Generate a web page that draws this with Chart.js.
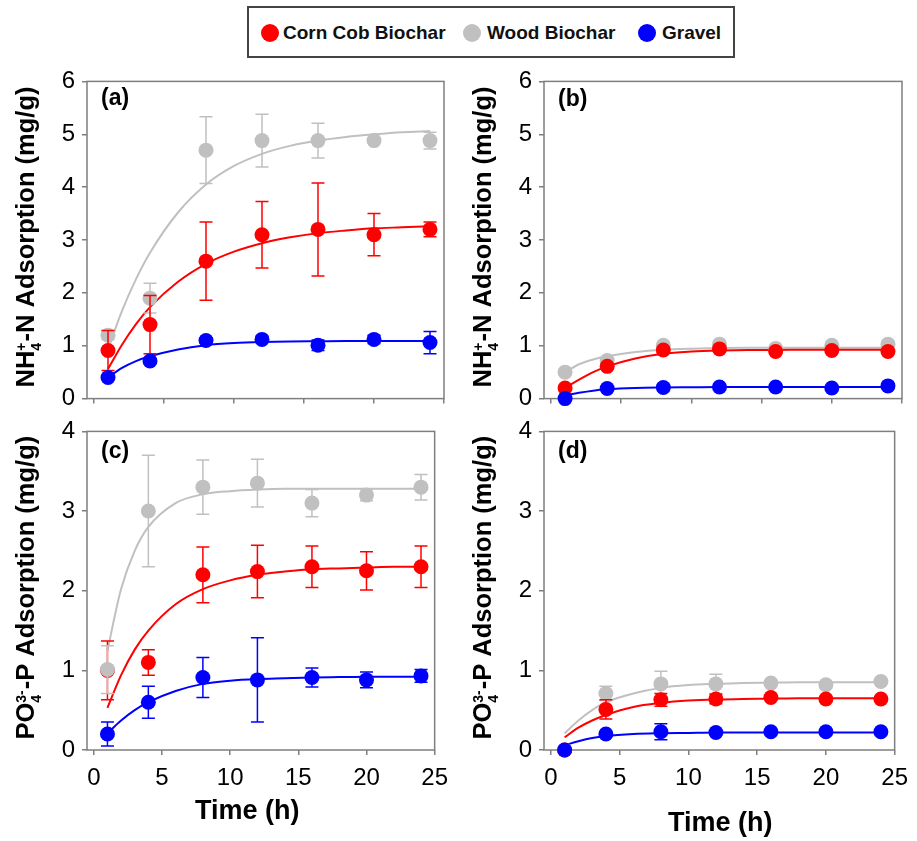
<!DOCTYPE html>
<html>
<head>
<meta charset="utf-8">
<title>NH4+-N and PO43--P adsorption kinetics</title>
<script src="https://cdn.jsdelivr.net/npm/chart.js@4.4.1/dist/chart.umd.min.js"></script>
<style>
  html, body { margin: 0; padding: 0; background: #fff; }
  body { position: relative; width: 917px; height: 841px; overflow: hidden; font-family: "Liberation Sans", Arial, sans-serif; }
  canvas { position: absolute; }
  #legend { position: absolute; left: 247px; top: 6px; width: 488px; height: 52px; box-sizing: border-box; border: 2px solid #444; background: #fff; }
  #legend span { position: absolute; top: 1px; height: 48px; line-height: 48px; font-weight: bold; font-size: 19px; color: #111; white-space: nowrap; }
  #legend i { position: absolute; top: 16px; width: 18px; height: 18px; border-radius: 50%; }
</style>
</head>
<body>
<div id="legend"></div>
<canvas id="pa" width="457" height="360" style="left:0;top:60px"></canvas>
<canvas id="pb" width="460" height="360" style="left:457px;top:60px"></canvas>
<canvas id="pc" width="457" height="431" style="left:0;top:410px"></canvas>
<canvas id="pd" width="460" height="431" style="left:457px;top:410px"></canvas>
<script>
/* DATA */
const timeH = [1, 4, 8, 12, 16, 20, 24];
const fitT = [1, 2, 3, 4, 6, 8, 10, 12, 14, 16, 18, 20, 22, 24];
const xTicks = [0, 5, 10, 15, 20, 25];
const yTicksN = [0, 1, 2, 3, 4, 5, 6];
const yTicksP = [0, 1, 2, 3, 4];
const seriesNames = ["Corn Cob Biochar", "Wood Biochar", "Gravel"];

// (a) NH4+-N
const aCorn = [0.91, 1.4, 2.6, 3.1, 3.2, 3.1, 3.2];
const aCornErr = [0.38, 0.55, 0.74, 0.63, 0.88, 0.4, 0.14];
const aCornFit = [0.56, 1.02, 1.41, 1.73, 2.21, 2.55, 2.78, 2.94, 3.05, 3.13, 3.18, 3.22, 3.24, 3.26];
const aWood = [1.2, 1.9, 4.7, 4.88, 4.88, 4.88, 4.88];
const aWoodErr = [0.08, 0.28, 0.63, 0.5, 0.33, 0.05, 0.16];
const aWoodFit = [0.93, 1.66, 2.26, 2.76, 3.52, 4.05, 4.4, 4.63, 4.78, 4.88, 4.95, 5.0, 5.04, 5.06];
const aGravel = [0.4, 0.71, 1.1, 1.12, 1.01, 1.12, 1.06];
const aGravelErr = [0.03, 0.04, 0.05, 0.06, 0.1, 0.08, 0.21];
const aGravelFit = [0.4, 0.58, 0.71, 0.8, 0.93, 1.01, 1.05, 1.07, 1.08, 1.085, 1.09, 1.09, 1.09, 1.09];

// (b) NH4+-N
const bCorn = [0.2, 0.61, 0.92, 0.94, 0.89, 0.91, 0.89];
const bCornErr = [0.03, 0.05, 0.05, 0.04, 0.03, 0.03, 0.03];
const bCornFit = [0.2, 0.36, 0.5, 0.61, 0.76, 0.85, 0.89, 0.91, 0.92, 0.92, 0.925, 0.925, 0.925, 0.925];
const bWood = [0.5, 0.72, 1.01, 1.03, 0.95, 1.01, 1.03];
const bWoodErr = [0.02, 0.05, 0.04, 0.04, 0.03, 0.03, 0.03];
const bWoodFit = [0.5, 0.65, 0.74, 0.8, 0.88, 0.925, 0.945, 0.955, 0.96, 0.96, 0.96, 0.96, 0.96, 0.96];
const bGravel = [0.0, 0.19, 0.21, 0.22, 0.22, 0.2, 0.24];
const bGravelErr = [0.01, 0.03, 0.06, 0.03, 0.02, 0.02, 0.02];
const bGravelFit = [0.06, 0.11, 0.15, 0.175, 0.2, 0.21, 0.215, 0.22, 0.22, 0.22, 0.22, 0.22, 0.22, 0.22];

// (c) PO43--P
const cCorn = [1.0, 1.1, 2.2, 2.24, 2.3, 2.25, 2.3];
const cCornErr = [0.37, 0.16, 0.35, 0.33, 0.26, 0.24, 0.26];
const cCornFit = [0.53, 0.94, 1.26, 1.5, 1.83, 2.02, 2.13, 2.2, 2.24, 2.27, 2.28, 2.29, 2.3, 2.3];
const cWood = [1.01, 3.0, 3.3, 3.35, 3.1, 3.2, 3.3];
const cWoodErr = [0.3, 0.7, 0.34, 0.3, 0.17, 0.07, 0.16];
const cWoodFit = [1.25, 2.02, 2.5, 2.8, 3.1, 3.21, 3.25, 3.27, 3.28, 3.28, 3.28, 3.28, 3.28, 3.28];
const cGravel = [0.2, 0.6, 0.91, 0.88, 0.91, 0.88, 0.93];
const cGravelErr = [0.15, 0.2, 0.25, 0.53, 0.12, 0.1, 0.08];
const cGravelFit = [0.21, 0.37, 0.5, 0.6, 0.74, 0.83, 0.87, 0.89, 0.9, 0.91, 0.915, 0.92, 0.92, 0.92];

// (d) PO43--P
const dCorn = [0.0, 0.51, 0.63, 0.64, 0.66, 0.64, 0.64];
const dCornErr = [0, 0.12, 0.08, 0.06, 0.02, 0.02, 0.02];
const dCornFit = [0.16, 0.28, 0.37, 0.44, 0.54, 0.59, 0.62, 0.635, 0.64, 0.645, 0.65, 0.65, 0.65, 0.65];
const dWood = [0.0, 0.71, 0.83, 0.83, 0.84, 0.82, 0.86];
const dWoodErr = [0, 0.09, 0.16, 0.12, 0.02, 0.02, 0.02];
const dWoodFit = [0.21, 0.37, 0.5, 0.6, 0.71, 0.78, 0.815, 0.83, 0.84, 0.845, 0.85, 0.85, 0.85, 0.85];
const dGravel = [0.0, 0.2, 0.23, 0.22, 0.23, 0.23, 0.23];
const dGravelErr = [0, 0.02, 0.1, 0.02, 0.02, 0.02, 0.02];
const dGravelFit = [0.06, 0.11, 0.15, 0.175, 0.2, 0.21, 0.215, 0.22, 0.22, 0.22, 0.22, 0.22, 0.22, 0.22];

/* STYLE */
const FAM = '"Liberation Sans", Arial, sans-serif';
const colors = ['#ff0000', '#c0c0c0', '#0000ff'];
const axisGray = '#7f7f7f';
Chart.defaults.font.family = FAM;
Chart.defaults.color = '#000';

/* legend */
const legendPos = [[21, 34], [223, 238], [398, 413]];
const legend = document.getElementById('legend');
seriesNames.forEach((name, i) => {
    const dot = document.createElement('i');
    dot.style.left = (legendPos[i][0] - 9) + 'px';
    dot.style.background = colors[i];
    const txt = document.createElement('span');
    txt.style.left = legendPos[i][1] + 'px';
    txt.textContent = name;
    legend.appendChild(dot);
    legend.appendChild(txt);
});

/* error bars drawn under each marker series */
const errorBars = {
    id: 'errorBars',
    beforeDatasetDraw(chart, args) {
        const ds = chart.data.datasets[args.index];
        if (!ds.errors) return;
        const ctx = chart.ctx, ys = chart.scales.y;
        ctx.save();
        ctx.strokeStyle = ds.backgroundColor;
        ctx.lineWidth = 1.5;
        args.meta.data.forEach((pt, i) => {
            const e = ds.errors[i];
            if (!e) return;
            const v = ds.data[i].y;
            const t = ys.getPixelForValue(v + e), b = ys.getPixelForValue(v - e);
            ctx.beginPath();
            ctx.moveTo(pt.x, t); ctx.lineTo(pt.x, b);
            ctx.moveTo(pt.x - 6.5, t); ctx.lineTo(pt.x + 6.5, t);
            ctx.moveTo(pt.x - 6.5, b); ctx.lineTo(pt.x + 6.5, b);
            ctx.stroke();
        });
        ctx.restore();
    }
};

function drawYTitle(ctx, parts, bx, cy) {
    const big = 'bold 25.5px ' + FAM, small = 'bold 14px ' + FAM;
    const stackW = p => { ctx.font = small; return Math.max(ctx.measureText(p.sub).width, ctx.measureText(p.sup).width) + 1; };
    let w = 0;
    parts.forEach(p => {
        if (typeof p === 'string') { ctx.font = big; w += ctx.measureText(p).width; }
        else w += stackW(p);
    });
    ctx.save();
    ctx.translate(bx, cy);
    ctx.rotate(-Math.PI / 2);
    ctx.fillStyle = '#000';
    ctx.textAlign = 'left';
    ctx.textBaseline = 'alphabetic';
    let x = -w / 2;
    parts.forEach(p => {
        if (typeof p === 'string') {
            ctx.font = big; ctx.fillText(p, x, 0); x += ctx.measureText(p).width;
        } else {
            const sw = stackW(p);
            ctx.font = small;
            ctx.fillText(p.sub, x, 7.5);
            ctx.fillText(p.sup, x, -8);
            x += sw;
        }
    });
    ctx.restore();
}

/* frame, panel tag and axis titles */
const frame = {
    id: 'frame',
    beforeDatasetsDraw(chart) {
        const { left, top, right, bottom } = chart.chartArea;
        const ctx = chart.ctx;
        ctx.save();
        ctx.strokeStyle = axisGray;
        ctx.lineWidth = 1.5;
        ctx.strokeRect(left, top, right - left, bottom - top);
        ctx.restore();
    },
    afterDraw(chart, args, o) {
        const { left, top, right, bottom } = chart.chartArea;
        const ctx = chart.ctx;
        ctx.save();
        ctx.fillStyle = '#000';
        ctx.font = 'bold 23px ' + FAM;
        ctx.textBaseline = 'alphabetic';
        ctx.textAlign = 'left';
        ctx.fillText(o.tag, left + 14, top + o.tagDy);
        drawYTitle(ctx, o.yTitle, left - 53.5, (top + bottom) / 2 - 3);
        if (o.xTitle) {
            ctx.font = 'bold 27px ' + FAM;
            ctx.textAlign = 'center';
            ctx.fillText(o.xTitle, (left + right) / 2 + o.xTitleDx, bottom + o.xTitleDy);
        }
        ctx.restore();
    }
};

function panel(id, o) {
    const fits = [o.fit[0], o.fit[1], o.fit[2]];
    const datasets = [];
    o.mean.forEach((m, k) => {
        datasets.push({
            type: 'line',
            data: fitT.map((t, i) => ({ x: t, y: fits[k][i] })),
            borderColor: colors[k],
            borderWidth: 2,
            pointRadius: 0,
            fill: false,
            cubicInterpolationMode: 'monotone',
            order: 20 + k
        });
        datasets.push({
            type: 'scatter',
            data: timeH.map((t, i) => ({ x: t, y: m[i] })),
            errors: o.err[k],
            backgroundColor: colors[k],
            pointRadius: 7.5,
            pointBorderWidth: 0,
            clip: false,
            order: o.markerOrder[k]
        });
    });
    new Chart(document.getElementById(id), {
        type: 'scatter',
        data: { datasets },
        options: {
            responsive: false,
            animation: false,
            events: [],
            layout: { padding: { top: 20, right: o.padRight, left: 0, bottom: 0 } },
            plugins: {
                legend: { display: false },
                tooltip: { enabled: false },
                frame: { tag: o.tag, tagDy: o.tagDy, yTitle: o.yTitle, xTitle: o.xTitle, xTitleDx: o.xTitleDx, xTitleDy: o.xTitleDy }
            },
            scales: {
                x: {
                    type: 'linear', min: -0.5, max: 25,
                    afterBuildTicks: s => { s.ticks = xTicks.map(v => ({ value: v })); },
                    afterFit: s => { s.height = o.xHeight; },
                    ticks: { display: o.xLabels, font: { size: 24 }, padding: 9, maxRotation: 0, autoSkip: false },
                    grid: { drawOnChartArea: false, drawTicks: true, tickLength: 5, color: axisGray, lineWidth: 1.5 },
                    border: { display: false }
                },
                y: {
                    type: 'linear', min: 0, max: o.yTicks[o.yTicks.length - 1],
                    afterBuildTicks: s => { s.ticks = o.yTicks.map(v => ({ value: v })); },
                    afterFit: s => { s.width = 87; },
                    ticks: { font: { size: 24 }, padding: 7 },
                    grid: { drawOnChartArea: false, drawTicks: true, tickLength: 5, color: axisGray, lineWidth: 1.5 },
                    border: { display: false }
                }
            }
        },
        plugins: [errorBars, frame]
    });
}

const titleN = ['NH', { sub: '4', sup: '+' }, '-N Adsorption (mg/g)'];
const titleP = ['PO', { sub: '4', sup: '3-' }, '-P Adsorption (mg/g)'];

panel('pa', {
    tag: '(a)', tagDy: 24, yTitle: titleN, yTicks: yTicksN, xLabels: false, xHeight: 20, padRight: 13,
    mean: [aCorn, aWood, aGravel], err: [aCornErr, aWoodErr, aGravelErr], fit: [aCornFit, aWoodFit, aGravelFit],
    markerOrder: [2, 3, 1]
});
panel('pb', {
    tag: '(b)', tagDy: 25, yTitle: titleN, yTicks: yTicksN, xLabels: false, xHeight: 20, padRight: 15,
    mean: [bCorn, bWood, bGravel], err: [bCornErr, bWoodErr, bGravelErr], fit: [bCornFit, bWoodFit, bGravelFit],
    markerOrder: [2, 3, 1]
});
panel('pc', {
    tag: '(c)', tagDy: 27, yTitle: titleP, yTicks: yTicksP, xLabels: true, xHeight: 91, padRight: 13,
    xTitle: 'Time (h)', xTitleDx: -13.5, xTitleDy: 69,
    mean: [cCorn, cWood, cGravel], err: [cCornErr, cWoodErr, cGravelErr], fit: [cCornFit, cWoodFit, cGravelFit],
    markerOrder: [3, 2, 1]
});
panel('pd', {
    tag: '(d)', tagDy: 27, yTitle: titleP, yTicks: yTicksP, xLabels: true, xHeight: 91, padRight: 15,
    xTitle: 'Time (h)', xTitleDx: 1, xTitleDy: 81,
    mean: [dCorn, dWood, dGravel], err: [dCornErr, dWoodErr, dGravelErr], fit: [dCornFit, dWoodFit, dGravelFit],
    markerOrder: [2, 3, 1]
});
</script>
</body>
</html>
